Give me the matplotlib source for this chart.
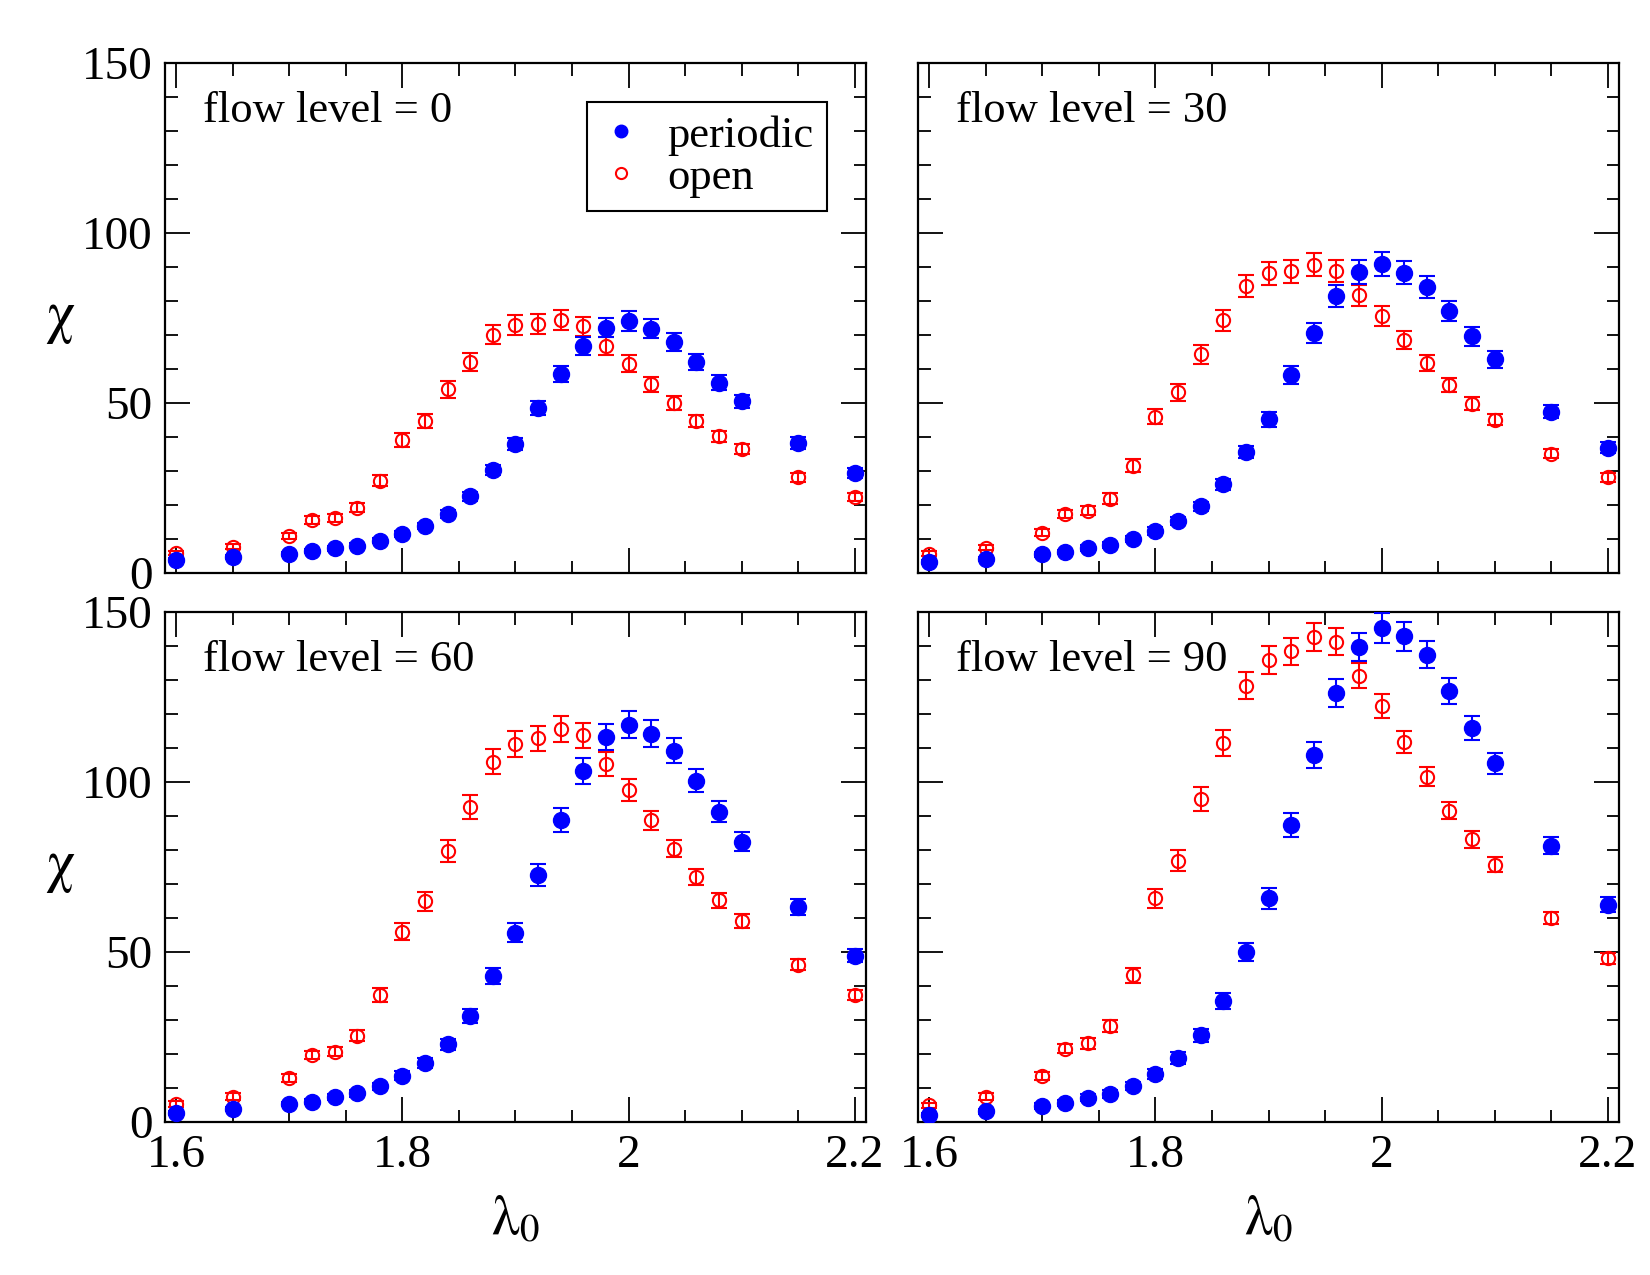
import matplotlib
matplotlib.use("Agg")
import matplotlib.pyplot as plt
from matplotlib.ticker import MultipleLocator
from matplotlib.lines import Line2D

plt.rcParams['font.family'] = ['Liberation Serif', 'DejaVu Serif']
plt.rcParams['mathtext.fontset'] = 'stix'

# lambda_0 values (shared by all panels)
lam = [1.60, 1.65, 1.70, 1.72, 1.74, 1.76, 1.78, 1.80, 1.82, 1.84, 1.86, 1.88, 1.90,
       1.92, 1.94, 1.96, 1.98, 2.00, 2.02, 2.04, 2.06, 2.08, 2.10, 2.15, 2.20]

flow_levels = [0, 30, 60, 90]

# chi, periodic boundary conditions
per_0 = [3.9, 4.7, 5.7, 6.4, 7.3, 8.0, 9.5, 11.5, 13.8, 17.3, 22.6, 30.2, 38.0,
         48.5, 58.5, 66.7, 72.2, 74.1, 71.8, 67.9, 62.1, 56.0, 50.5, 38.2, 29.4]
per_30 = [3.2, 4.2, 5.5, 6.2, 7.4, 8.2, 10.0, 12.4, 15.4, 19.6, 26.1, 35.6, 45.2,
          58.3, 70.6, 81.4, 88.5, 90.8, 88.3, 84.1, 77.0, 69.6, 62.8, 47.5, 36.9]
per_60 = [2.6, 3.7, 5.3, 6.0, 7.4, 8.5, 10.5, 13.6, 17.4, 22.8, 31.2, 42.9, 55.7,
          72.6, 88.9, 103.2, 113.2, 116.9, 114.2, 109.2, 100.4, 91.2, 82.5, 63.2, 48.9]
per_90 = [2.0, 3.1, 4.7, 5.5, 7.1, 8.3, 10.6, 14.2, 18.8, 25.5, 35.5, 50.0, 65.8,
          87.3, 107.9, 126.2, 139.7, 145.3, 142.8, 137.4, 126.8, 115.8, 105.5, 81.3, 63.9]

# chi, open boundary conditions
opn_0 = [5.9, 7.7, 11.0, 15.6, 16.1, 19.2, 27.2, 39.2, 44.8, 54.0, 62.0, 70.1, 72.9,
         73.3, 74.4, 72.6, 66.7, 61.5, 55.5, 50.0, 44.7, 40.2, 36.4, 28.1, 22.4]
opn_30 = [5.7, 7.5, 11.9, 17.3, 18.3, 21.9, 31.6, 46.0, 53.2, 64.4, 74.4, 84.4, 88.1,
          88.8, 90.7, 88.8, 81.7, 75.6, 68.6, 61.8, 55.3, 49.8, 45.1, 35.1, 28.1]
opn_60 = [5.3, 7.5, 12.9, 19.7, 20.7, 25.4, 37.4, 56.0, 64.9, 79.7, 92.7, 106.0, 111.1,
          112.8, 115.5, 113.8, 105.2, 97.6, 88.7, 80.4, 72.1, 65.2, 59.2, 46.2, 37.3]
opn_90 = [4.9, 7.5, 13.6, 21.6, 23.1, 28.3, 43.1, 65.8, 76.8, 94.9, 111.5, 128.3, 135.8,
          138.4, 142.6, 141.3, 131.3, 122.3, 111.7, 101.6, 91.6, 83.1, 75.7, 59.9, 48.1]

# error bars
per_err_0 = [0.5, 0.5, 0.6, 0.6, 0.7, 0.7, 0.8, 0.9, 1.0, 1.1, 1.3, 1.5, 1.8,
             2.1, 2.4, 2.7, 2.8, 2.9, 2.8, 2.6, 2.4, 2.2, 2.0, 1.8, 1.5]
per_err_30 = [0.5, 0.6, 0.7, 0.7, 0.8, 0.9, 1.0, 1.1, 1.2, 1.4, 1.6, 1.9, 2.2,
              2.6, 3.0, 3.3, 3.5, 3.5, 3.4, 3.2, 2.9, 2.7, 2.4, 2.0, 1.7]
per_err_60 = [0.6, 0.6, 0.7, 0.8, 0.9, 1.0, 1.1, 1.3, 1.5, 1.7, 2.0, 2.4, 2.8,
              3.2, 3.6, 3.8, 3.9, 4.0, 3.9, 3.7, 3.4, 3.1, 2.8, 2.3, 1.9]
per_err_90 = [0.6, 0.7, 0.8, 0.9, 1.0, 1.1, 1.3, 1.5, 1.7, 2.0, 2.3, 2.7, 3.1,
              3.5, 3.9, 4.1, 4.2, 4.3, 4.2, 4.0, 3.8, 3.5, 3.1, 2.6, 2.2]

opn_err_0 = [0.6, 0.7, 0.9, 1.1, 1.2, 1.3, 1.6, 2.0, 2.1, 2.4, 2.6, 2.8, 2.9,
             2.9, 2.9, 2.8, 2.7, 2.5, 2.2, 2.0, 1.8, 1.6, 1.5, 1.2, 1.1]
opn_err_30 = [0.7, 0.8, 1.0, 1.2, 1.3, 1.5, 1.9, 2.3, 2.5, 2.8, 3.1, 3.3, 3.4,
              3.4, 3.4, 3.3, 3.1, 2.9, 2.6, 2.3, 2.1, 1.9, 1.7, 1.4, 1.2]
opn_err_60 = [0.8, 0.9, 1.1, 1.3, 1.4, 1.7, 2.1, 2.6, 2.8, 3.1, 3.5, 3.7, 3.8,
              3.8, 3.8, 3.7, 3.5, 3.2, 2.9, 2.6, 2.4, 2.2, 2.0, 1.6, 1.4]
opn_err_90 = [0.8, 0.9, 1.2, 1.4, 1.5, 1.8, 2.3, 2.8, 3.1, 3.5, 3.8, 4.0, 4.1,
              4.1, 4.1, 4.0, 3.8, 3.5, 3.2, 2.9, 2.6, 2.4, 2.2, 1.8, 1.5]

periodic = [per_0, per_30, per_60, per_90]
periodic_err = [per_err_0, per_err_30, per_err_60, per_err_90]
open_bc = [opn_0, opn_30, opn_60, opn_90]
open_err = [opn_err_0, opn_err_30, opn_err_60, opn_err_90]

fig = plt.figure(figsize=(16.5, 12.75), dpi=100)
W, H = 1650, 1275
lefts = [165, 918]
tops = [63, 612]
aw, ah = 701, 510

for i, fl in enumerate(flow_levels):
    row, col = divmod(i, 2)
    ax = fig.add_axes([lefts[col] / W, 1 - (tops[row] + ah) / H, aw / W, ah / H])

    ax.errorbar(lam, open_bc[i], yerr=open_err[i], fmt='o', color='red',
                mfc='none', mec='red', ms=9.5, mew=1.5, elinewidth=1.5,
                capsize=6, capthick=1.5, zorder=2)
    ax.errorbar(lam, periodic[i], yerr=periodic_err[i], fmt='o', color='blue',
                ms=11.5, elinewidth=1.5, capsize=6, capthick=1.5, zorder=3)

    ax.set_xlim(1.59, 2.21)
    ax.set_ylim(0, 150)
    ax.xaxis.set_minor_locator(MultipleLocator(0.05))
    ax.yaxis.set_major_locator(MultipleLocator(50))
    ax.yaxis.set_minor_locator(MultipleLocator(10))
    ax.set_xticks([1.6, 1.8, 2.0, 2.2])
    ax.set_xticklabels(['1.6', '1.8', '2', '2.2'])
    ax.tick_params(which='both', direction='in', top=True, right=True,
                   labelsize=34, width=1.3)
    ax.tick_params(which='major', length=18, pad=9)
    ax.tick_params(which='minor', length=9)
    for s in ax.spines.values():
        s.set_linewidth(1.6)

    if row == 0:
        ax.tick_params(labelbottom=False)
    else:
        ax.set_xlabel(r'$\mathrm{\lambda}_{0}$', fontsize=40, labelpad=12)
    if col == 1:
        ax.tick_params(labelleft=False)
    else:
        ax.set_ylabel('χ', family='STIXGeneral', fontsize=42, rotation=0,
                      labelpad=16, va='center')

    ax.text(0.054, 0.905, 'flow level = %d' % fl, transform=ax.transAxes,
            fontsize=32, va='center', ha='left')

    if i == 0:
        handles = [Line2D([], [], ls='none', marker='o', color='blue', ms=9),
                   Line2D([], [], ls='none', marker='o', mfc='none', mec='red',
                          mew=1.5, ms=8)]
        leg = ax.legend(handles, ['periodic', 'open'], loc='upper right',
                        bbox_to_anchor=(0.944, 0.924), fontsize=32,
                        frameon=True, fancybox=False, edgecolor='black',
                        framealpha=1, handlelength=0.9, handletextpad=0.6,
                        borderpad=0.3, labelspacing=0.05, borderaxespad=0)
        leg.get_frame().set_linewidth(1.5)

fig.savefig('out.png', dpi=100)
